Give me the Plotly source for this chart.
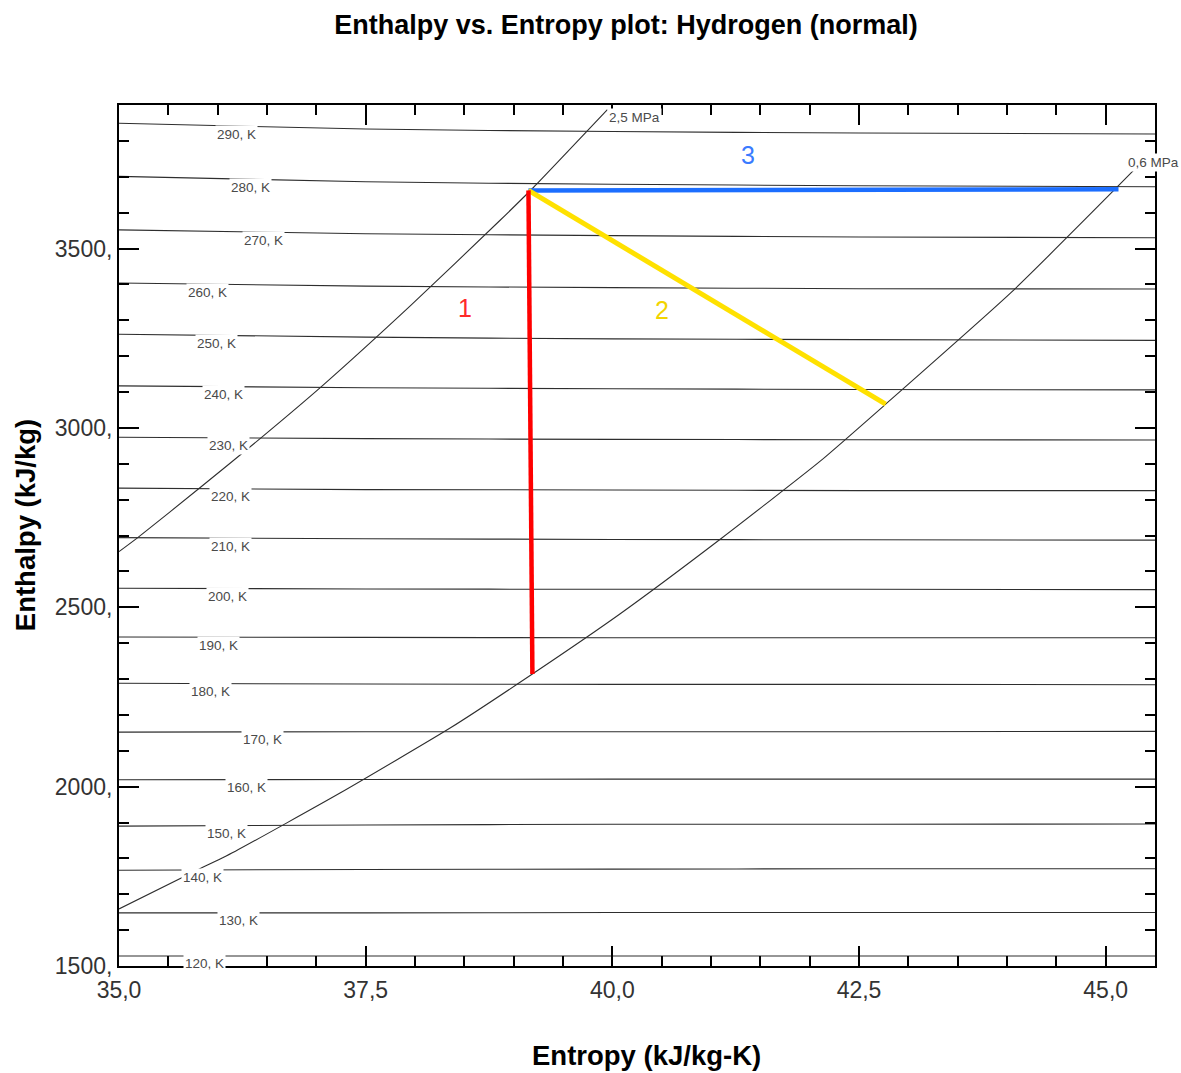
import numpy as np
import plotly.graph_objects as go

# ---------------------------------------------------------------------------
# Data: normal hydrogen, enthalpy h (kJ/kg) vs. entropy s (kJ/kg-K)
# ---------------------------------------------------------------------------

# Entropy stations at which each isotherm is tabulated
s_iso = [35.0, 37.5, 40.0, 42.5, 45.5]

# Isotherm enthalpies at the stations above
temps_K = [290, 280, 270, 260, 250, 240, 230, 220, 210,
           200, 190, 180, 170, 160, 150, 140, 130, 120]
h_290K = [3849, 3833, 3826, 3822, 3819]
h_280K = [3701, 3686, 3679, 3675, 3672]
h_270K = [3552, 3541, 3536, 3532, 3530]
h_260K = [3404, 3395, 3391, 3388, 3387]
h_250K = [3261, 3253, 3248, 3246, 3244]
h_240K = [3117, 3112, 3109, 3107, 3106]
h_230K = [2974, 2970, 2968, 2967, 2966]
h_220K = [2832, 2828, 2827, 2825, 2825]
h_210K = [2694, 2691, 2689, 2688, 2687]
h_200K = [2553, 2551, 2550, 2550, 2549]
h_190K = [2417, 2416, 2415, 2415, 2415]
h_180K = [2288, 2286, 2285, 2285, 2284]
h_170K = [2152, 2153, 2153, 2153, 2154]
h_160K = [2019, 2020, 2021, 2021, 2021]
h_150K = [1890, 1893, 1895, 1895, 1896]
h_140K = [1767, 1769, 1770, 1771, 1771]
h_130K = [1648, 1648, 1649, 1649, 1649]
h_120K = [1528, 1528, 1528, 1528, 1528]

isotherms = [h_290K, h_280K, h_270K, h_260K, h_250K, h_240K, h_230K, h_220K,
             h_210K, h_200K, h_190K, h_180K, h_170K, h_160K, h_150K, h_140K,
             h_130K, h_120K]

# Isobars
s_2p5MPa = [35.0, 35.19, 35.82, 36.43, 37.06, 37.96, 38.86, 39.20, 39.95]
h_2p5MPa = [2655, 2694, 2833, 2970, 3117, 3342, 3578, 3670, 3887]

s_0p6MPa = [35.0, 35.82, 36.18, 37.24, 38.36, 39.19, 40.08, 41.10, 42.11,
            42.77, 44.04, 45.13, 45.29]
h_0p6MPa = [1659, 1771, 1820, 1982, 2164, 2314, 2482, 2691, 2908,
            3066, 3377, 3675, 3720]

# Process paths (start state shared by all three)
s_path1 = [39.15, 39.19]
h_path1 = [3662, 2314]
s_path2 = [39.15, 42.77]
h_path2 = [3662, 3066]
s_path3 = [39.15, 45.13]
h_path3 = [3662, 3665]

# Axis ticks
x_ticks = [35.0, 37.5, 40.0, 42.5, 45.0]
y_ticks = [1500, 2000, 2500, 3000, 3500]
y_tick_text = ["1500,", "2000,", "2500,", "3000,", "3500,"]

# ---------------------------------------------------------------------------
FONT = "Liberation Sans, Arial, sans-serif"
LINE = "#2e2e2e"

fig = go.Figure()

for T, h in zip(temps_K, isotherms):
    fig.add_trace(go.Scatter(
        x=s_iso, y=h, mode="lines", name=f"{T} K",
        line=dict(color=LINE, width=1.1, shape="spline", smoothing=0.6),
        hoverinfo="skip", showlegend=False))

for s, h, name in [(s_2p5MPa, h_2p5MPa, "2,5 MPa"), (s_0p6MPa, h_0p6MPa, "0,6 MPa")]:
    fig.add_trace(go.Scatter(
        x=s, y=h, mode="lines", name=name,
        line=dict(color=LINE, width=1.1, shape="spline", smoothing=0.5),
        hoverinfo="skip", showlegend=False))

for s, h, col, w in [(s_path3, h_path3, "#1c6eff", 4.5),
                     (s_path2, h_path2, "#ffe100", 5),
                     (s_path1, h_path1, "#ff0000", 4.5)]:
    fig.add_trace(go.Scatter(x=s, y=h, mode="lines",
                             line=dict(color=col, width=w),
                             hoverinfo="skip", showlegend=False))

# Isotherm labels sit just under their line, masking it with a white box
label_s = [36.19, 36.33, 36.46, 35.90, 35.99, 36.06, 36.11, 36.13, 36.13,
           36.10, 36.01, 35.93, 36.45, 36.29, 36.09, 35.85, 36.21, 35.87]
annotations = []
for T, h, sl in zip(temps_K, isotherms, label_s):
    annotations.append(dict(
        x=sl, y=float(np.interp(sl, s_iso, h)), yshift=-8,
        text=f"{T}, K", showarrow=False, xanchor="center", yanchor="middle",
        font=dict(family=FONT, size=13.5, color="#4a4a4a"),
        bgcolor="white", borderpad=1))

# Isobar labels at the upper ends of the curves
annotations.append(dict(x=s_2p5MPa[-1], y=3865, text="2,5 MPa", showarrow=False,
                        xanchor="left", yanchor="middle",
                        font=dict(family=FONT, size=13.5, color="#4a4a4a"),
                        bgcolor="white", borderpad=1))
annotations.append(dict(x=45.21, y=3739, text="0,6 MPa", showarrow=False,
                        xanchor="left", yanchor="middle",
                        font=dict(family=FONT, size=13.5, color="#4a4a4a"),
                        bgcolor="white", borderpad=1))

# Process numbers
for txt, sx, hy, col in [("1", 38.51, 3335, "#ff2a2a"),
                         ("2", 40.50, 3329, "#f2d400"),
                         ("3", 41.38, 3762, "#3a7bff")]:
    annotations.append(dict(x=sx, y=hy, text=txt, showarrow=False,
                            font=dict(family=FONT, size=25, color=col)))

# Axis titles
annotations.append(dict(xref="paper", yref="paper", x=0.5087, y=-0.1034,
                        text="<b>Entropy (kJ/kg-K)</b>", showarrow=False,
                        xanchor="center", yanchor="middle",
                        font=dict(family=FONT, size=27.5, color="black")))
annotations.append(dict(xref="paper", yref="paper", x=-0.0907, y=0.512,
                        text="<b>Enthalpy (kJ/kg)</b>", showarrow=False,
                        textangle=-90, xanchor="center", yanchor="middle",
                        font=dict(family=FONT, size=27.5, color="black")))

axis_common = dict(
    showgrid=False, zeroline=False, showline=True, linecolor="black",
    linewidth=2, mirror="ticks", ticks="inside", ticklen=20, tickwidth=1.5,
    tickcolor="black",
    tickfont=dict(family=FONT, size=23, color="#333"),
)

fig.update_layout(
    width=1181, height=1073,
    margin=dict(l=119, r=26, t=105, b=107),
    paper_bgcolor="white", plot_bgcolor="white",
    separators=",.",
    title=dict(text="<b>Enthalpy vs. Entropy plot: Hydrogen (normal)</b>",
               x=0.53, xanchor="center", y=1 - 25 / 1073, yanchor="middle",
               font=dict(family=FONT, size=27, color="black")),
    xaxis=dict(range=[35.0, 45.5], tickvals=x_ticks, tickformat=".1f",
               ticklabelstandoff=2,
               minor=dict(ticks="inside", dtick=0.5, tick0=35.0, ticklen=10,
                          tickwidth=1.5, tickcolor="black"),
               **axis_common),
    yaxis=dict(range=[1500, 3900], tickvals=y_ticks, ticktext=y_tick_text,
               minor=dict(ticks="inside", dtick=100, tick0=1500, ticklen=10,
                          tickwidth=1.5, tickcolor="black"),
               **axis_common),
    annotations=annotations,
)

fig.write_html("out.html")
